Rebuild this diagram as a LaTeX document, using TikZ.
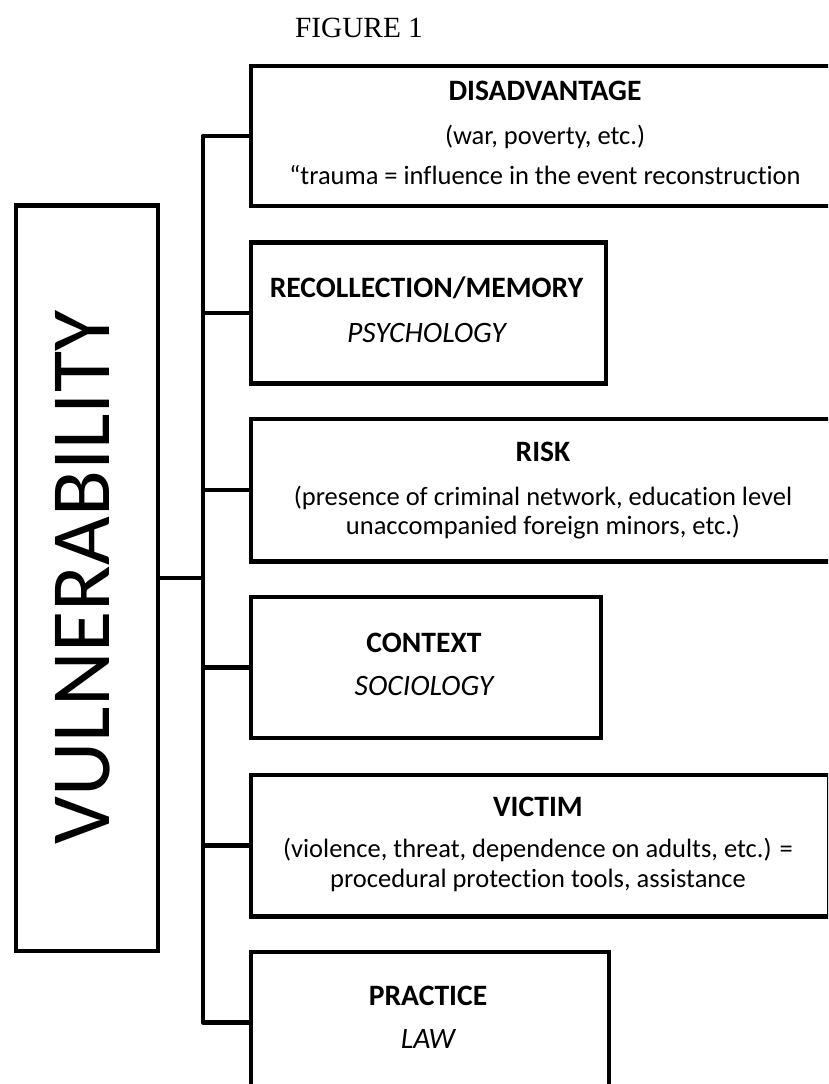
\documentclass[tikz,border=0pt]{standalone}
\usepackage{fontspec}
\setsansfont{Carlito}[Ligatures=NoCommon]
\newfontfamily\figserif{Liberation Serif}
\usepackage{tikz}
\usetikzlibrary{positioning}
\newcommand{\framew}{4.3pt}
\newcommand{\headsize}{\fontsize{29.6}{35}\selectfont}
\newcommand{\bodysize}{\fontsize{26.5}{32}\selectfont}
\newcommand{\figfont}{\figserif\fontsize{29.3}{34}\selectfont}

\begin{document}
\begin{tikzpicture}[x=1pt, y=-1pt,
        framebox/.style={draw, line width=\framew, inner sep=0pt, anchor=north west},
        headtext/.style={anchor=base, font=\sffamily\bfseries\headsize},
        bodytext/.style={anchor=base, font=\sffamily\bodysize},
        subjtext/.style={anchor=base, font=\sffamily\itshape\headsize},
        link/.style={line width=\framew, line join=round}]
            \useasboundingbox (0,0) rectangle (828,1084);
            \clip (0,0) rectangle (828,1084);
            %\draw[help lines, step=50] (0,0) grid (828,1084);
            \node[anchor=base, font=\figfont] (fig) at (359,37) {FIGURE 1};
            % main box
            \node[framebox, minimum width=142pt, minimum height=745.4pt] (vuln) at (14,203.3) {};
            \node[anchor=base, rotate=90, font=\sffamily\fontsize{84.3}{90}\selectfont] (vuln-text) at (109,577.5) {VULNERABILITY};
            % category boxes
            \foreach \nm/\by/\bw/\bh in {dis/63.7/591/140.3, rec/240.2/355/141, risk/416.7/591/142.5,
                                           ctx/594.7/350/141, vic/772.7/578/141.5, prac/949.8/358/141} {
                \node[framebox, minimum width=\bw pt, minimum height=\bh pt] (\nm) at (249,\by) {};
            }
            \coordinate (trunk) at (202.8,0);
            \draw[link] (dis.west) -- (trunk |- dis.west) -- (trunk |- prac.west) -- (prac.west);
            \foreach \nm in {rec,risk,ctx,vic} {
                \draw[link] (trunk |- \nm.west) -- (\nm.west);
            }
            \draw[link] (vuln.east) -- (trunk |- vuln.east);
            % texts
            \node[headtext] (dis-head) at (545,100) {DISADVANTAGE};
            \node[bodytext] (dis-a) at (545,144) {(war, poverty, etc.)};
            \node[bodytext] (dis-b) at (545,184) {“trauma = influence in the event reconstruction};
            \node[headtext] (rec-head) at (426.5,297) {RECOLLECTION/MEMORY};
            \node[subjtext] (rec-subj) at (426.5,342) {PSYCHOLOGY};
            \node[headtext] (risk-head) at (543,461) {RISK};
            \node[bodytext] (risk-a) at (543,505) {(presence of criminal network, education level};
            \node[bodytext] (risk-b) at (543,534) {unaccompanied foreign minors, etc.)};
            \node[headtext] (ctx-head) at (424,652) {CONTEXT};
            \node[subjtext] (ctx-subj) at (424,695) {SOCIOLOGY};
            \node[headtext] (vic-head) at (538,816) {VICTIM};
            \node[bodytext] (vic-a) at (538,857) {(violence, threat, dependence on adults, etc.) =};
            \node[bodytext] (vic-b) at (538,887) {procedural protection tools, assistance};
            \node[headtext] (prac-head) at (428,1005) {PRACTICE};
            \node[subjtext] (prac-subj) at (428,1048) {LAW};
\end{tikzpicture}
\end{document}
